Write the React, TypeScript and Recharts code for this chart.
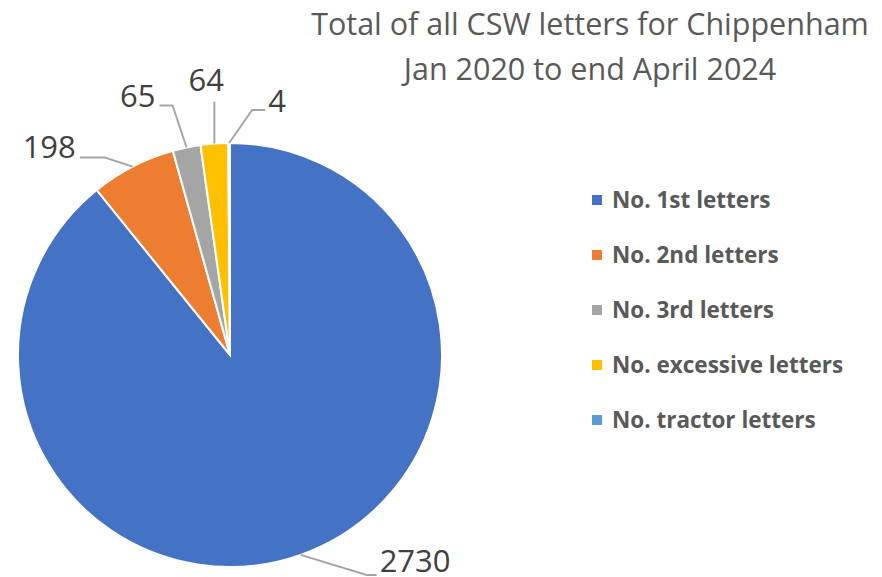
import { Legend, Pie, PieChart, Cell } from 'recharts';

const categories = [
  'No. 1st letters',
  'No. 2nd letters',
  'No. 3rd letters',
  'No. excessive letters',
  'No. tractor letters',
];
const letterCounts = [2730, 198, 65, 64, 4];
const titleLines = ['Total of all CSW letters for Chippenham', 'Jan 2020 to end April 2024'];

const colors = ['#4472C4', '#ED7D31', '#A5A5A5', '#FFC000', '#5B9BD5'];

// leader line: elbow offset from the slice edge, then horizontal run, text anchor
const labelLayout = [
  { ex: 66, ey: 20, run: 10, anchor: 'start', tx: 3, ty: -3 },
  { ex: -28, ey: -9, run: -25, anchor: 'end', tx: -4, ty: 0 },
  { ex: -14, ey: -42, run: -13, anchor: 'end', tx: -4, ty: 2 },
  { ex: 0, ey: -42, run: 0, anchor: 'middle', tx: -8, ty: -11 },
  { ex: 23, ey: -33, run: 13, anchor: 'start', tx: 3, ty: 2 },
];

const data = categories.map((name, i) => ({ name, value: letterCounts[i] }));

const RADIAN = Math.PI / 180;
const FONT = '"Open Sans", sans-serif';

function renderLabel(props: any) {
  const { cx, cy, midAngle, outerRadius, index, value } = props;
  const l = labelLayout[index];
  const sx = cx + outerRadius * Math.cos(-midAngle * RADIAN);
  const sy = cy + outerRadius * Math.sin(-midAngle * RADIAN);
  const mx = sx + l.ex;
  const my = sy + l.ey;
  const ex = mx + l.run;
  return (
    <g key={`lbl-${index}`}>
      <polyline
        points={`${sx},${sy} ${mx},${my} ${ex},${my}`}
        fill="none"
        stroke="#A6A6A6"
        strokeWidth={2}
      />
      <text
        x={ex + l.tx}
        y={my + l.ty}
        textAnchor={l.anchor}
        fill="#404040"
        fontSize={31}
        fontFamily={FONT}
      >
        {value}
      </text>
    </g>
  );
}

function LegendList() {
  return (
    <div style={{ fontFamily: FONT, fontWeight: 700, fontSize: 22.5, color: '#595959' }}>
      {categories.map((c, i) => (
        <div key={c} style={{ display: 'flex', alignItems: 'center', height: 55 }}>
          <span style={{ width: 10, height: 10, background: colors[i], marginRight: 10 }} />
          <span>{c}</span>
        </div>
      ))}
    </div>
  );
}

export default function App() {
  return (
    <div style={{ position: 'absolute', left: 0, top: 0, width: 882, height: 577, background: '#fff' }}>
      <div
        style={{
          position: 'absolute',
          left: 290,
          width: 600,
          top: 1,
          textAlign: 'center',
          fontFamily: FONT,
          fontSize: 30.5,
          lineHeight: '45px',
          color: '#595959',
        }}
      >
        {titleLines.map((t) => (
          <div key={t}>{t}</div>
        ))}
      </div>
      <PieChart width={882} height={577} margin={{ top: 0, right: 0, bottom: 0, left: 0 }}>
        <Pie
          data={data}
          dataKey="value"
          nameKey="name"
          cx={230}
          cy={355}
          outerRadius={212}
          startAngle={90}
          endAngle={-270}
          stroke="#fff"
          strokeWidth={2}
          label={renderLabel}
          labelLine={false}
          isAnimationActive={false}
        >
          {data.map((d, i) => (
            <Cell key={d.name} fill={colors[i]} />
          ))}
        </Pie>
        <Legend
          layout="vertical"
          content={() => <LegendList />}
          wrapperStyle={{ left: 592, top: 172, width: 290 }}
        />
      </PieChart>
    </div>
  );
}
